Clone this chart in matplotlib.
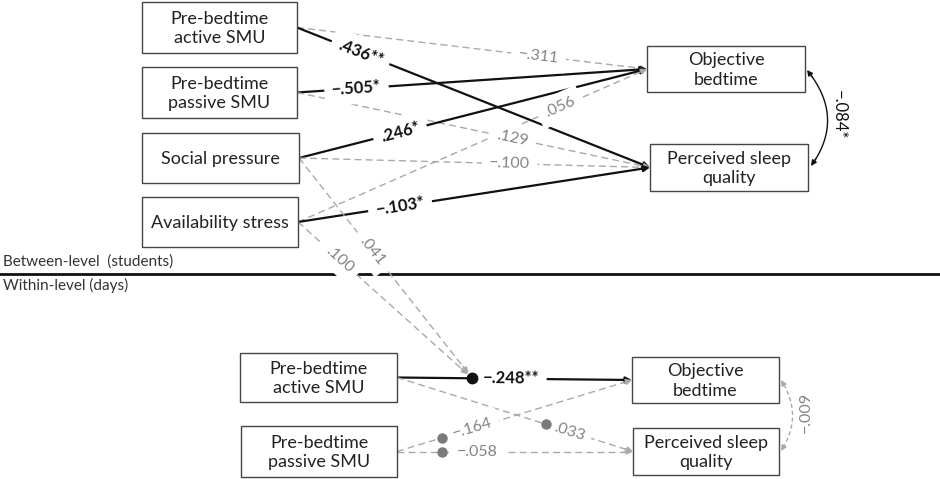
import numpy as np
import matplotlib.pyplot as plt
from matplotlib.patches import Rectangle

plt.rcParams['font.family'] = ['Lato', 'DejaVu Sans']

# path model: between level (students)
between_src = ["Pre-bedtime\nactive SMU", "Pre-bedtime\npassive SMU",
               "Social pressure", "Availability stress"]
outcomes = ["Objective\nbedtime", "Perceived sleep\nquality"]
between_to_bedtime = ["−.311", "−.505*", ".246*", ".056"]
between_to_sleep = [".436**", ".129", "−.100", "−.103*"]
between_cov = "−.084*"
# cross-level paths (social pressure, availability stress -> within slope)
cross_level = [".041", ".100"]

# within level (days)
within_src = ["Pre-bedtime\nactive SMU", "Pre-bedtime\npassive SMU"]
within_to_bedtime = ["−.248**", "−.164"]
within_to_sleep = [".033", "−.058"]
within_cov = "−.009"

BLACK = "#111111"
GRAY_LINE = "#a9a9a9"
GRAY_TXT = "#848484"
GRAY_DOT = "#7a7a7a"

fig = plt.figure(figsize=(9.4, 4.79), dpi=100)
ax = fig.add_axes([0, 0, 1, 1])
ax.set_xlim(0, 940)
ax.set_ylim(479, 0)
ax.axis('off')


def box(b, text):
    x0, y0, x1, y1 = b
    ax.add_patch(Rectangle((x0, y0), x1 - x0, y1 - y0, facecolor='white',
                           edgecolor='#454545', lw=1.0, zorder=3))
    ax.text((x0 + x1) / 2, (y0 + y1) / 2 + 1, text, ha='center', va='center',
            fontsize=13, linespacing=1.25, color='#222222', zorder=4)
    return (x1, (y0 + y1) / 2), (x0, (y0 + y1) / 2)


def arrow(p0, p1, sig, end_gap=0):
    p0, p1 = np.array(p0, float), np.array(p1, float)
    u = (p1 - p0) / np.hypot(*(p1 - p0))
    tip = p1 - end_gap * u
    color = BLACK if sig else GRAY_LINE
    lw = 1.6 if sig else 1.0
    ls = '-' if sig else (0, (5, 3))
    base = tip - 6 * u
    ax.plot([p0[0], base[0]], [p0[1], base[1]], color=color, lw=lw, ls=ls,
            zorder=1, solid_capstyle='butt')
    ax.annotate('', xy=tip, xytext=tip - 9 * u,
                arrowprops=dict(arrowstyle='-|>', color=color, lw=lw,
                                mutation_scale=9, shrinkA=0, shrinkB=0),
                zorder=2)


def label(p0, p1, t, text):
    p0, p1 = np.array(p0, float), np.array(p1, float)
    pos = p0 + t * (p1 - p0)
    d = p1 - p0
    ang = -np.degrees(np.arctan2(d[1], d[0]))
    sig = '*' in text
    ax.text(pos[0], pos[1], text, ha='center', va='center', rotation=ang,
            rotation_mode='anchor', fontsize=12 if sig else 11.5,
            fontweight='bold' if sig else 'normal',
            color=BLACK if sig else GRAY_TXT, zorder=5,
            bbox=dict(boxstyle='square,pad=0.45', fc='white', ec='none'))


def cov_arc(p0, p2, cx, text, sig, lx):
    p0, p2 = np.array(p0, float), np.array(p2, float)
    c = np.array([cx, (p0[1] + p2[1]) / 2])
    s = np.linspace(0, 1, 80)[:, None]
    pts = (1 - s) ** 2 * p0 + 2 * s * (1 - s) * c + s ** 2 * p2
    color = BLACK if sig else GRAY_LINE
    ls = '-' if sig else (0, (3, 2))
    ax.plot(pts[5:-5, 0], pts[5:-5, 1], color=color, lw=1.0, ls=ls, zorder=1)
    for tip, prev in ((pts[0], pts[6]), (pts[-1], pts[-7])):
        ax.annotate('', xy=tip, xytext=prev,
                    arrowprops=dict(arrowstyle='-|>', color=color, lw=1.0,
                                    mutation_scale=8, shrinkA=0, shrinkB=0))
    ax.text(lx, (p0[1] + p2[1]) / 2 - 3, text, ha='center', va='center',
            rotation=-90 if sig else 90, fontsize=12 if sig else 11.5,
            color=BLACK if sig else GRAY_TXT)


# ---- between level ----
left_boxes = [(142, 2, 297, 53), (142, 67, 297, 118),
              (142, 133, 299, 183), (142, 197, 298, 247)]
right_boxes = [(647, 46, 805, 92), (650, 144, 808, 191)]
src_pts = [box(b, s)[0] for b, s in zip(left_boxes, between_src)]
tgt_pts = [box(b, s)[1] for b, s in zip(right_boxes, outcomes)]

t_bed = [0.69, 0.17, 0.29, 0.75]
t_sleep = [0.18, 0.61, 0.60, 0.29]
for i, p in enumerate(src_pts):
    for tgt, coef, t in ((tgt_pts[0], between_to_bedtime[i], t_bed[i]),
                         (tgt_pts[1], between_to_sleep[i], t_sleep[i])):
        arrow(p, tgt, '*' in coef)
        label(p, tgt, t, coef)

cov_arc((807, 70), (811, 166), 846, between_cov, True, 839)

# ---- level divider ----
ax.axhline(274, color=BLACK, lw=2.0, zorder=1)
ax.text(3, 262, "Between-level  (students)", fontsize=11, color='#333333',
        ha='left', va='center')
ax.text(3, 285, "Within-level (days)", fontsize=11, color='#333333',
        ha='left', va='center')

# ---- within level ----
wl_boxes = [(240, 353, 397, 402), (241, 426, 397, 477)]
wr_boxes = [(632, 357, 779, 403), (633, 428, 779, 475)]
wsrc = [box(b, s)[0] for b, s in zip(wl_boxes, within_src)]
wtgt = [box(b, s)[1] for b, s in zip(wr_boxes, outcomes)]

# random slope dots sit at a fraction along each within path
dot_t_bed = [0.32, 0.19]
dot_t_sleep = [0.63, 0.19]
lab_t_bed = [0.485, 0.32]
lab_t_sleep = [0.73, 0.34]
for i, p in enumerate(wsrc):
    for tgt, coef, td, tl in ((wtgt[0], within_to_bedtime[i], dot_t_bed[i], lab_t_bed[i]),
                              (wtgt[1], within_to_sleep[i], dot_t_sleep[i], lab_t_sleep[i])):
        sig = '*' in coef
        arrow(p, tgt, sig)
        label(p, tgt, tl, coef)
        d = np.array(p) + td * (np.array(tgt) - np.array(p))
        ax.plot(d[0], d[1], 'o', ms=7.5 if sig else 6.5,
                color=BLACK if sig else GRAY_DOT, zorder=6)
        if sig:
            slope_dot = d

# cross-level moderation arrows into the active SMU -> bedtime slope
cross_t = [0.42, 0.24]
for p, coef, t in zip(src_pts[2:], cross_level, cross_t):
    arrow(p, slope_dot, False, end_gap=6)
    label(p, slope_dot, t, coef)

cov_arc((781, 380), (781, 451), 804, within_cov, False, 806)

fig.savefig('out.png', dpi=100)
